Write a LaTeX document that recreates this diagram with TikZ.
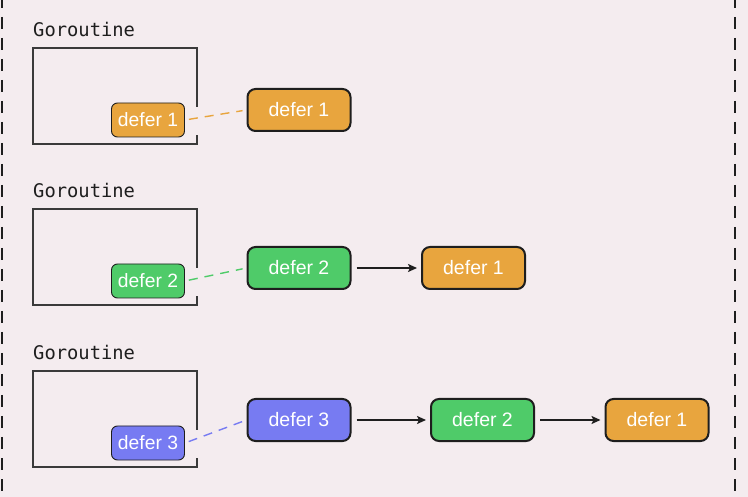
\documentclass[tikz,border=0pt]{standalone}
\usepackage{fontspec}
\setmainfont{Liberation Sans}
\setmonofont{DejaVu Sans Mono}
\usetikzlibrary{arrows.meta}
\definecolor{bgpink}{HTML}{F4ECEF}
\definecolor{deferorange}{HTML}{E8A53E}
\definecolor{defergreen}{HTML}{4FCB69}
\definecolor{deferblue}{HTML}{777BF2}
\definecolor{inkdark}{HTML}{1E1E1E}
\definecolor{framegray}{HTML}{3A3A3A}
\tikzset{
  goname/.style={font=\ttfamily\fontsize{18.8}{20}\selectfont, text=inkdark, inner sep=0pt},
  gframe/.style={draw=framegray, line width=1.2pt},
  smalldefer/.style={draw=inkdark, line width=0.9pt, rounded corners=6pt, minimum width=73pt, minimum height=34pt, inner sep=0pt, text=white, font=\fontsize{19.3}{20}\selectfont},
  bigdefer/.style={draw=inkdark, line width=2pt, rounded corners=8pt, minimum width=103pt, minimum height=42pt, inner sep=0pt, text=white, font=\fontsize{19.5}{20}\selectfont},
  link/.style={line width=1.4pt, dash pattern=on 9pt off 7pt, shorten <=4pt, shorten >=4pt},
  chainarrow/.style={-{Stealth[length=9pt, width=8pt, inset=2pt]}, line width=1.6pt, draw=inkdark, shorten <=5pt, shorten >=4pt},
  framedash/.style={line width=2pt, draw=inkdark, dash pattern=on 12pt off 9pt}
}
\begin{document}
\begin{tikzpicture}[x=1pt, y=-1pt]
    \useasboundingbox[fill=bgpink] (0,0) rectangle (748,497);
    % Outer dashed frame (only its sides are in view)
    \draw[framedash] (2,-4) -- (2,502);
    \draw[framedash] (735,-4) -- (735,502);

    % Goroutine frames with their own defer entry
    \foreach \r/\ytop/\c in {1/48/deferorange, 2/209/defergreen, 3/371/deferblue} {
        \pgfmathsetmacro{\ymid}{\ytop+72}
        \node[goname, anchor=base west] (g\r) at (33,\ytop-11) {Goroutine};
        \draw[gframe] (197,\ymid-13) -- (197,\ytop) -- (33,\ytop) -- (33,\ytop+96) -- (197,\ytop+96) -- (197,\ymid+15);
        \node[smalldefer, fill=\c] (s\r) at (148,\ymid) {defer \r};
    }

    % Defer chains
    \node[bigdefer, fill=deferorange] (b11) at (299,110) {defer 1};

    \node[bigdefer, fill=defergreen] (b21) at (299,268) {defer 2};
    \node[bigdefer, fill=deferorange] (b22) at (473.5,268) {defer 1};

    \node[bigdefer, fill=deferblue] (b31) at (299,420) {defer 3};
    \node[bigdefer, fill=defergreen] (b32) at (482.5,420) {defer 2};
    \node[bigdefer, fill=deferorange] (b33) at (657,420) {defer 1};

    % Dashed links from goroutine to chain head
    \foreach \r/\c in {1/deferorange, 2/defergreen, 3/deferblue} {
        \draw[link, draw=\c] (s\r.east) -- (b\r1.west);
    }

    % Chain arrows
    \draw[chainarrow] (b21) -- (b22);
    \draw[chainarrow] (b31) -- (b32);
    \draw[chainarrow] (b32) -- (b33);
\end{tikzpicture}
\end{document}
